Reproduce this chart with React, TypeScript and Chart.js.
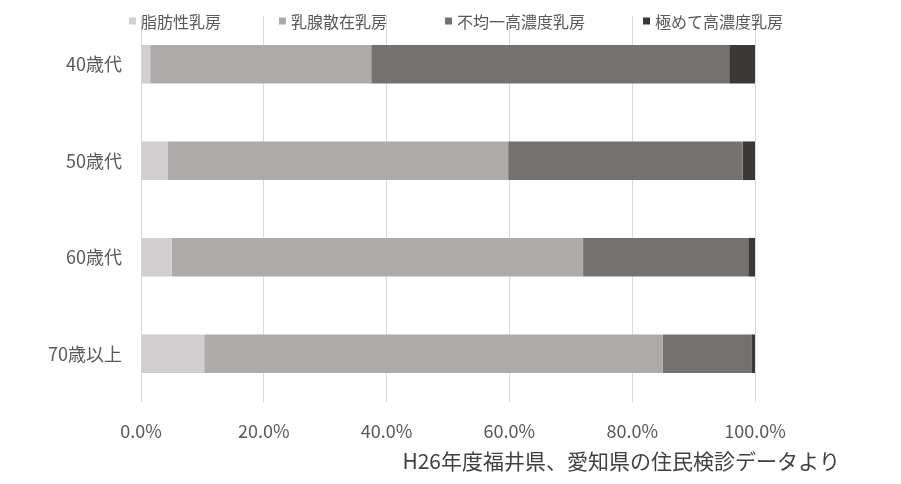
import { Chart, registerables } from 'chart.js';
import type { Plugin } from 'chart.js';
import { useEffect, useRef } from 'react';

Chart.register(...registerables);

const FONT = '"Noto Sans CJK JP", "Noto Sans", sans-serif';

const ageGroups = ['40歳代', '50歳代', '60歳代', '70歳以上'];
const seriesNames = ['脂肪性乳房', '乳腺散在乳房', '不均一高濃度乳房', '極めて高濃度乳房'];
const fatty = [1.5, 4.4, 5.0, 10.3];
const scattered = [36.0, 55.4, 67.0, 74.7];
const heterogeneous = [58.3, 38.2, 26.9, 14.4];
const extremelyDense = [4.2, 2.0, 1.1, 0.6];
const xTicks = [0, 20, 40, 60, 80, 100];
const sourceNote = 'H26年度福井県、愛知県の住民検診データより';

const seriesColors = ['#d0cece', '#aeaaaa', '#767171', '#3b3838'];

// legend drawn over the top of the plot, plus the source note bottom right
const overlayPlugin: Plugin<'bar'> = {
  id: 'overlay',
  afterDraw(chart) {
    const { ctx, chartArea } = chart;
    ctx.save();
    ctx.font = `16px ${FONT}`;
    ctx.textBaseline = 'middle';
    ctx.textAlign = 'left';
    const box = 7;
    const gap = 5;
    const spacing = 58;
    const widths = chart.data.datasets.map((ds) => ctx.measureText(String(ds.label)).width);
    const total =
      widths.reduce((sum, w) => sum + box + gap + w, 0) + spacing * (widths.length - 1);
    let x = (chartArea.left + chartArea.right) / 2 + 8 - total / 2;
    const y = 13;
    chart.data.datasets.forEach((ds, i) => {
      ctx.fillStyle = String(ds.backgroundColor);
      ctx.fillRect(x, y - box / 2, box, box);
      ctx.fillStyle = '#595959';
      ctx.fillText(String(ds.label), x + box + gap, y + 1);
      x += box + gap + widths[i] + spacing;
    });

    ctx.font = `21px ${FONT}`;
    ctx.textAlign = 'right';
    ctx.fillStyle = '#404040';
    ctx.fillText(sourceNote, 832, 453);
    ctx.restore();
  },
};

function DensityChart() {
  const canvasRef = useRef<HTMLCanvasElement>(null);
  const chartRef = useRef<Chart<'bar'> | null>(null);

  useEffect(() => {
    const canvas = canvasRef.current;
    if (!canvas) {
      return undefined;
    }
    chartRef.current?.destroy();

    const values = [fatty, scattered, heterogeneous, extremelyDense];

    chartRef.current = new Chart(canvas, {
      type: 'bar',
      data: {
        labels: ageGroups,
        datasets: seriesNames.map((name, i) => ({
          label: name,
          data: values[i],
          backgroundColor: seriesColors[i],
          borderWidth: 0,
          categoryPercentage: 1,
          barPercentage: 0.4,
        })),
      },
      options: {
        indexAxis: 'y',
        animation: false,
        responsive: true,
        maintainAspectRatio: false,
        layout: {
          padding: { top: 8, right: 138, bottom: 34, left: 0 },
        },
        plugins: {
          legend: { display: false },
          tooltip: { enabled: false },
        },
        scales: {
          x: {
            stacked: true,
            min: 0,
            max: 100,
            afterBuildTicks: (scale) => {
              scale.ticks = xTicks.map((value) => ({ value }));
            },
            afterFit: (scale) => {
              scale.height = 40;
            },
            ticks: {
              color: '#595959',
              padding: 18,
              font: { family: FONT, size: 18 },
              callback: (value) => `${Number(value).toFixed(1)}%`,
            },
            grid: {
              color: '#d9d9d9',
              lineWidth: 1,
              drawTicks: false,
            },
            border: { display: false },
          },
          y: {
            stacked: true,
            afterFit: (scale) => {
              scale.width = 133;
              scale.paddingTop = 0;
              scale.paddingBottom = 0;
            },
            ticks: {
              color: '#595959',
              padding: 19,
              font: { family: FONT, size: 18 },
            },
            grid: { display: false, drawTicks: false },
            border: { display: false },
          },
        },
      },
      plugins: [overlayPlugin],
    });

    return () => {
      chartRef.current?.destroy();
      chartRef.current = null;
    };
  }, []);

  return (
    <div style={{ position: 'relative', width: 885, height: 468 }}>
      <canvas ref={canvasRef} aria-label="年代別乳房の構成" role="img" />
    </div>
  );
}

export default function App() {
  return <DensityChart />;
}
